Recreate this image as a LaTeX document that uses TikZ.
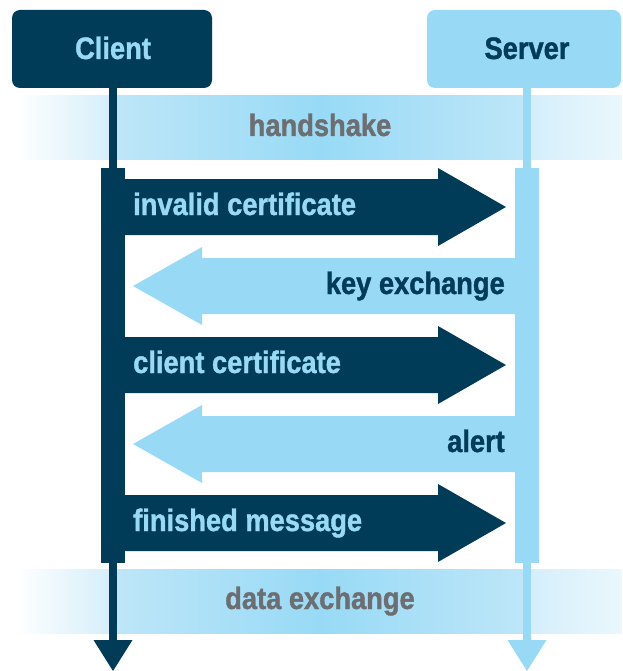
\documentclass[tikz,border=0pt]{standalone}
\usepackage{fontspec}
\setmainfont{Liberation Sans}[FakeStretch=0.88, BoldFeatures={FakeBold=1.2}]
\definecolor{navy}{HTML}{003B58}
\definecolor{sky}{HTML}{98DAF6}
\definecolor{skyedge}{HTML}{BEE6F8}
\definecolor{skyouter}{HTML}{D4EEFA}
\definecolor{skypale}{HTML}{EAF7FD}
\definecolor{bandgrey}{HTML}{6D6E71}
\tikzset{
  lbl/.style={font=\bfseries\fontsize{31}{31}\selectfont, inner sep=0pt},
  party/.style={lbl, rounded corners=8pt, minimum height=78pt},
  bandleft/.style={left color=white, right color=skyouter},
  bandmid/.style={left color=skyedge, right color=skyedge, middle color=sky},
  bandright/.style={left color=skyouter, right color=skypale},
  bandtext/.style={lbl, text=bandgrey, anchor=base},
  outmsg/.style={lbl, text=sky, anchor=base west},
  inmsg/.style={lbl, text=navy, anchor=base east},
  % block arrow pointing right, centred on the local origin
  toserver/.pic={\fill[navy] (113,-28) -- (438,-28) -- (438,-39) -- (506,0)
      -- (438,39) -- (438,28) -- (113,28) -- cycle;},
  % block arrow pointing left, centred on the local origin
  toclient/.pic={\fill[sky] (527,-28) -- (202,-28) -- (202,-39) -- (133,0)
      -- (202,39) -- (202,28) -- (527,28) -- cycle;},
  % phase band split at the two lifelines
  phase/.pic={
    \shade[bandleft] (15,-32) rectangle (113,32);
    \shade[bandmid] (113,-32) rectangle (527,32);
    \shade[bandright] (527,-32) rectangle (622,32);},
}
\begin{document}
\begin{tikzpicture}[x=1pt, y=-1pt]
\useasboundingbox (0,0) rectangle (622,671);

% phase bands
\pic at (0,128) {phase};
\pic at (0,601.5) {phase};

% parties
\node[party, fill=navy, text=sky, minimum width=200pt] (client) at (112,49) {};
\node[party, fill=sky, text=navy, minimum width=194pt] (server) at (524,49) {};
\node[lbl, text=sky, anchor=base] (clientname) at (113,59) {Client};
\node[lbl, text=navy, anchor=base] (servername) at (527,59) {Server};

% lifelines
\coordinate (clientend) at (113,641);
\coordinate (serverend) at (527,641);
\draw[navy, line width=8pt] (client.south -| clientend) -- (clientend);
\draw[sky, line width=8pt] (server.south -| serverend) -- (serverend);
\fill[navy] (93.5,640) -- (132.5,640) -- (113,671) -- cycle;
\fill[sky] (507.5,640) -- (546.5,640) -- (527,671) -- cycle;

% activation bars
\fill[navy] (101,168) rectangle (125,563);
\fill[sky] (515,168) rectangle (539,563);

% band labels
\node[bandtext] (handshake) at (320,136) {handshake};
\node[bandtext] (dataexchange) at (320,609) {data exchange};

% messages
\pic at (0,207) {toserver};
\pic at (0,286) {toclient};
\pic at (0,365) {toserver};
\pic at (0,444) {toclient};
\pic at (0,523) {toserver};
\node[outmsg] (invalidcert) at (133,215) {invalid certificate};
\node[inmsg] (keyexchange) at (505,294) {key exchange};
\node[outmsg] (clientcert) at (133,373) {client certificate};
\node[inmsg] (alert) at (505,452) {alert};
\node[outmsg] (finished) at (133,531) {finished message};
\end{tikzpicture}
\end{document}
